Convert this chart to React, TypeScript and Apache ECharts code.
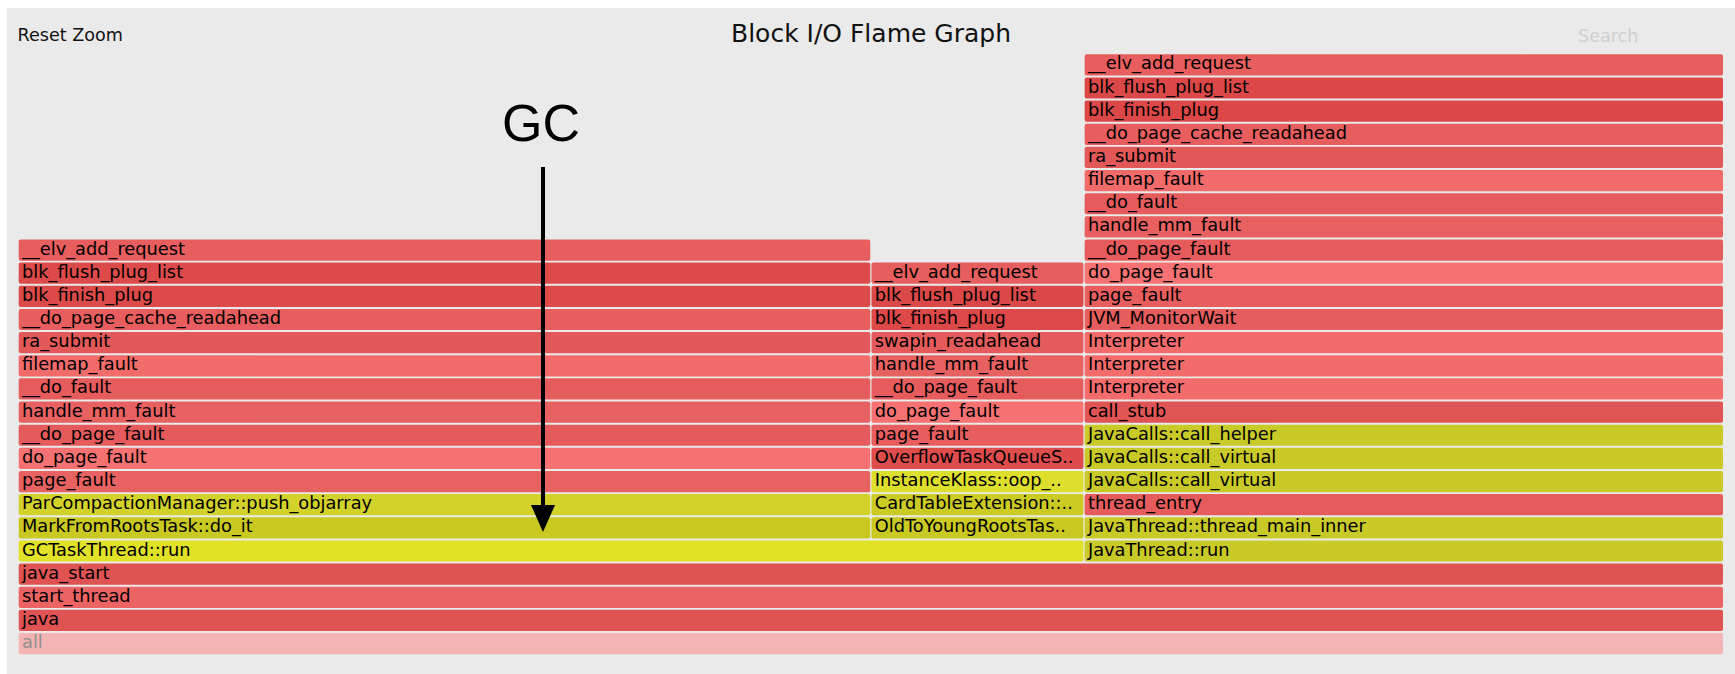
import React, { useEffect, useRef } from "react";
import * as echarts from "echarts";

// ---- Data (sample counts, total = 8) ----
const baseStack = ["all", "java", "start_thread", "java_start"];
const baseSamples = 8;
const baseColors = ["#F5B4B4", "#DF5353", "#EC6363", "#DF5353"];

const threadFrames = ["GCTaskThread::run", "JavaThread::run"];
const threadSamples = [5, 3];
const threadColors = ["#E1E127", "#C9CA28"];

const markStack = [
  "MarkFromRootsTask::do_it",
  "ParCompactionManager::push_objarray",
  "page_fault",
  "do_page_fault",
  "__do_page_fault",
  "handle_mm_fault",
  "__do_fault",
  "filemap_fault",
  "ra_submit",
  "__do_page_cache_readahead",
  "blk_finish_plug",
  "blk_flush_plug_list",
  "__elv_add_request",
];
const markSamples = 4;
const markColors = [
  "#C9C921", "#D3D22A", "#E96262", "#F67171", "#E55A5A", "#E86161",
  "#E65C5C", "#F26B6B", "#E35959", "#E85E5E", "#DD4A4A", "#DD4A4A", "#E85E5E",
];

const youngStack = [
  "OldToYoungRootsTas..",
  "CardTableExtension::..",
  "InstanceKlass::oop_..",
  "OverflowTaskQueueS..",
  "page_fault",
  "do_page_fault",
  "__do_page_fault",
  "handle_mm_fault",
  "swapin_readahead",
  "blk_finish_plug",
  "blk_flush_plug_list",
  "__elv_add_request",
];
const youngSamples = 1;
const youngColors = [
  "#C9C921", "#CBCB24", "#DEDE2C", "#DE4C4C", "#E85E5E", "#F67171",
  "#E65C5C", "#E86161", "#E55B5B", "#DD4848", "#DB4848", "#E65E5E",
];

const javaStack = [
  "JavaThread::thread_main_inner",
  "thread_entry",
  "JavaCalls::call_virtual",
  "JavaCalls::call_virtual",
  "JavaCalls::call_helper",
  "call_stub",
  "Interpreter",
  "Interpreter",
  "Interpreter",
  "JVM_MonitorWait",
  "page_fault",
  "do_page_fault",
  "__do_page_fault",
  "handle_mm_fault",
  "__do_fault",
  "filemap_fault",
  "ra_submit",
  "__do_page_cache_readahead",
  "blk_finish_plug",
  "blk_flush_plug_list",
  "__elv_add_request",
];
const javaSamples = 3;
const javaColors = [
  "#C9CA28", "#E65C5C", "#C9CA28", "#C9CA28", "#C9CA28", "#E05454",
  "#F36B6B", "#F36B6B", "#F36B6B", "#E65D5D", "#E85E5E", "#F67272",
  "#E65C5C", "#E86060", "#E65C5C", "#F26B6B", "#E35858", "#E85E5E",
  "#DC4848", "#DC4848", "#E85E5E",
];

type Frame = { name: string; start: number; end: number; depth: number; color: string };

function buildFrames(): Frame[] {
  const frames: Frame[] = [];
  baseStack.forEach((n, i) =>
    frames.push({ name: n, start: 0, end: baseSamples, depth: i, color: baseColors[i] })
  );
  let s = 0;
  threadFrames.forEach((n, i) => {
    frames.push({ name: n, start: s, end: s + threadSamples[i], depth: baseStack.length, color: threadColors[i] });
    s += threadSamples[i];
  });
  const d0 = baseStack.length + 1;
  const stacks: [string[], number, string[]][] = [
    [markStack, markSamples, markColors],
    [youngStack, youngSamples, youngColors],
    [javaStack, javaSamples, javaColors],
  ];
  let x = 0;
  stacks.forEach(([names, w, cols]) => {
    names.forEach((n, i) =>
      frames.push({ name: n, start: x, end: x + w, depth: d0 + i, color: cols[i] })
    );
    x += w;
  });
  return frames;
}

const frames = buildFrames();
const maxDepth = 26;

export default function App() {
  const ref = useRef<HTMLDivElement>(null);
  useEffect(() => {
    if (!ref.current) return;
    const chart = echarts.init(ref.current, undefined, { renderer: "svg" });
    const labelFont = '17.8px "DejaVu Sans", Verdana, sans-serif';
    chart.setOption({
      animation: false,
      backgroundColor: "#ffffff",
      grid: { left: 18.7, right: 10.8, top: 54.25, bottom: 17.85 },
      xAxis: { type: "value", min: 0, max: baseSamples, show: false },
      yAxis: { type: "value", min: 0, max: maxDepth, show: false },
      graphic: [
        {
          type: "rect",
          z: -100,
          silent: true,
          shape: { x: 7, y: 8, width: 1728, height: 666 },
          style: { fill: "#EAEAEA" },
        },
        {
          type: "text",
          z: 10,
          x: 17.5,
          y: 35,
          style: { text: "Reset Zoom", font: '17.6px "DejaVu Sans", Verdana, sans-serif', fill: "#111", align: "left", verticalAlign: "middle" },
        },
        {
          type: "text",
          z: 10,
          x: 871,
          y: 33,
          style: { text: "Block I/O Flame Graph", font: '25px "DejaVu Sans", Verdana, sans-serif', fill: "#111", align: "center", verticalAlign: "middle" },
        },
        {
          type: "text",
          z: 10,
          x: 1578,
          y: 36,
          style: { text: "Search", font: '17.6px "DejaVu Sans", Verdana, sans-serif', fill: "#CFCFCF", align: "left", verticalAlign: "middle" },
        },
        {
          type: "text",
          z: 100,
          x: 541,
          y: 123,
          style: { text: "GC", font: '52px "Liberation Sans", Arial, Helvetica, sans-serif', fill: "#000", align: "center", verticalAlign: "middle" },
        },
        {
          type: "line",
          z: 100,
          shape: { x1: 543, y1: 167, x2: 543, y2: 510 },
          style: { stroke: "#000", lineWidth: 4 },
        },
        {
          type: "polygon",
          z: 100,
          shape: { points: [[531, 505], [555, 505], [543, 532]] },
          style: { fill: "#000" },
        },
      ],
      series: [
        {
          type: "custom",
          z: 2,
          encode: { x: [0, 1], y: 2 },
          data: frames.map((f) => [f.start, f.end, f.depth]),
          renderItem: (params: any, api: any) => {
            const f = frames[params.dataIndex];
            const p0 = api.coord([api.value(0), api.value(2) + 1]);
            const p1 = api.coord([api.value(1), api.value(2)]);
            const x = p0[0];
            const y = p0[1];
            const w = p1[0] - p0[0] - 1.2;
            const h = p1[1] - p0[1] - 1.95;
            return {
              type: "group",
              children: [
                {
                  type: "rect",
                  shape: { x, y, width: w, height: h, r: 2 },
                  style: { fill: f.color },
                },
                {
                  type: "text",
                  style: {
                    x: x + 3.3,
                    y: y + h / 2 - 2,
                    text: f.name,
                    font: labelFont,
                    fill: f.name === "all" ? "#8F8F8F" : "#000",
                    align: "left",
                    verticalAlign: "middle",
                  },
                },
              ],
            };
          },
        },
      ],
    });
    return () => chart.dispose();
  }, []);
  return (
    <div
      ref={ref}
      style={{ position: "absolute", left: 0, top: 0, width: 1735, height: 674 }}
    />
  );
}
